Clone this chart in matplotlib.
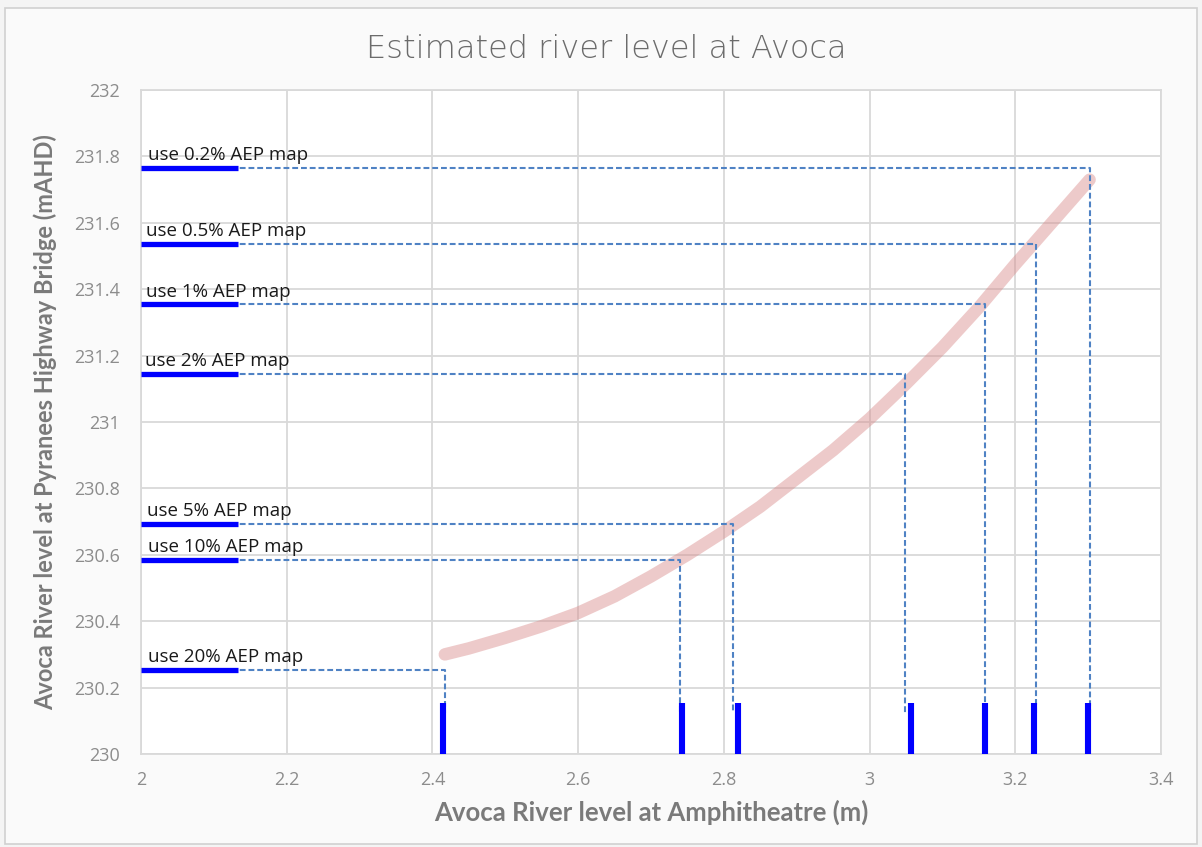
import matplotlib
matplotlib.use("Agg")
import matplotlib.pyplot as plt
from matplotlib.patches import Rectangle

# ---- data ----
curve_x = [2.417, 2.45, 2.5, 2.55, 2.6, 2.65, 2.7, 2.75, 2.8, 2.85, 2.9, 2.95,
           3.0, 3.05, 3.1, 3.15, 3.2, 3.25, 3.302]
curve_y = [230.300, 230.318, 230.350, 230.385, 230.425, 230.475, 230.535, 230.600,
           230.670, 230.745, 230.830, 230.915, 231.010, 231.115, 231.225, 231.345,
           231.475, 231.600, 231.730]

labels = ["use 0.2% AEP map", "use 0.5% AEP map", "use 1% AEP map", "use 2% AEP map",
          "use 5% AEP map", "use 10% AEP map", "use 20% AEP map"]
levels = [231.765, 231.537, 231.354, 231.146, 230.692, 230.583, 230.252]   # horizontal levels
cross_x = [3.302, 3.229, 3.158, 3.049, 2.813, 2.740, 2.417]               # where dashed lines turn down
mark_x = [3.300, 3.2256, 3.158, 3.057, 2.819, 2.7425, 2.4145]             # blue vertical markers
label_x = [2.010, 2.007, 2.007, 2.006, 2.008, 2.010, 2.010]

bar_x0, bar_x1 = 2.0, 2.133
mark_top = 230.155

title = "Estimated river level at Avoca"
xlabel = "Avoca River level at Amphitheatre (m)"
ylabel = "Avoca River level at Pyranees Highway Bridge (mAHD)"
xticks = [2, 2.2, 2.4, 2.6, 2.8, 3, 3.2, 3.4]
xticklabels = ["2", "2.2", "2.4", "2.6", "2.8", "3", "3.2", "3.4"]
yticks = [230, 230.2, 230.4, 230.6, 230.8, 231, 231.2, 231.4, 231.6, 231.8, 232]
yticklabels = ["230", "230.2", "230.4", "230.6", "230.8", "231", "231.2", "231.4", "231.6", "231.8", "232"]

# ---- figure ----
fig = plt.figure(figsize=(12.02, 8.47), dpi=100, facecolor="#f4f4f4")
fig.patches.append(Rectangle((0.004, 0.004), 0.992, 0.986, transform=fig.transFigure,
                             facecolor="#fafafa", edgecolor="#d0d0d0", lw=1.2, zorder=-5))
ax = fig.add_axes([0.1173, 0.1098, 0.8486, 0.7839])
ax.set_zorder(2)
ax.set_facecolor("#ffffff")

ax.set_xlim(2, 3.4)
ax.set_ylim(230, 232)
ax.set_xticks(xticks)
ax.set_xticklabels(xticklabels)
ax.set_yticks(yticks)
ax.set_yticklabels(yticklabels)
ax.grid(True, color="#d9d9d9", lw=1.3, zorder=0)
ax.set_axisbelow(True)
for s in ax.spines.values():
    s.set_color("#d9d9d9")
    s.set_linewidth(1.3)
ax.tick_params(length=0, colors="#8c8c8c", labelsize=13)
ax.tick_params(axis="y", pad=15)
ax.tick_params(axis="x", pad=12)
for t in ax.get_xticklabels() + ax.get_yticklabels():
    t.set_fontfamily("Open Sans")

# curve
ax.plot(curve_x, curve_y, color="#d98a8a", alpha=0.45, lw=9,
        solid_capstyle="round", solid_joinstyle="round", zorder=2)

dash_col = "#4f82c4"
for lab, lv, cx, mx, lx in zip(labels, levels, cross_x, mark_x, label_x):
    # dashed guide
    ax.plot([bar_x1 - 0.01, cx, cx], [lv, lv, mark_top - 0.03], color=dash_col,
            lw=1.5, dashes=(2.8, 1.4), zorder=3)
    # left horizontal bar
    ax.plot([bar_x0, bar_x1], [lv, lv], color="#0000ff", lw=3.8,
            solid_capstyle="butt", zorder=4)
    # bottom vertical marker
    ax.plot([mx, mx], [230, mark_top], color="#0000ff", lw=4.4,
            solid_capstyle="butt", zorder=4, clip_on=False)
    ax.text(lx, lv + 0.012, lab, fontsize=13.5, color="#1a1a1a",
            family="Open Sans", ha="left", va="bottom", zorder=5)

fig.text(0.5047, 0.942, title, ha="center", va="center", fontsize=23,
         color="#6b6b6b", family="DejaVu Sans", fontweight="light")
ax.set_xlabel(xlabel, fontsize=18.5, color="#7a7a7a", fontweight="bold",
              family="Lato", labelpad=8)
ax.set_ylabel(ylabel, fontsize=17, color="#7a7a7a", fontweight="bold",
              family="Lato", labelpad=12)

fig.savefig("out.png", dpi=100, facecolor=fig.get_facecolor())
